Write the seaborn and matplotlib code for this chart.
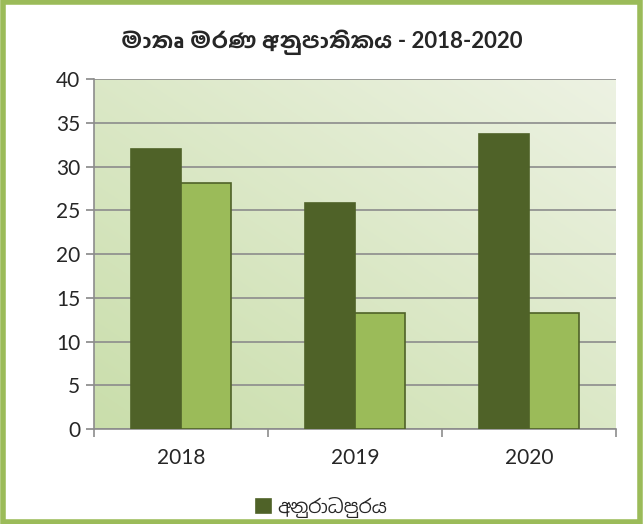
import numpy as np
import pandas as pd
import matplotlib.pyplot as plt
import seaborn as sns

# values
years = ["2018", "2019", "2020"]
anuradhapura = [32.0, 25.8, 33.7]
second_series = [28.1, 13.3, 13.3]
series_names = ["අනුරාධපුරය", "ශ්‍රී ලංකාව"]
title_text = "මාතෘ මරණ අනුපාතිකය - 2018-2020"
y_ticks = [0, 5, 10, 15, 20, 25, 30, 35, 40]

df = pd.DataFrame({
    "year": years * 2,
    "value": anuradhapura + second_series,
    "series": [series_names[0]] * 3 + [series_names[1]] * 3,
})

sns.set_theme(style="white")
plt.rcParams["font.family"] = ["Lato", "Noto Sans Sinhala", "DejaVu Sans"]

fig = plt.figure(figsize=(6.43, 5.24), dpi=100)
ax = fig.add_axes([94 / 643, 1 - 429 / 524, (616 - 94) / 643, (429 - 79) / 524])

# gradient background: darker bottom-left, lighter top-right
grad = np.linspace(0, 1, 256)
gx, gy = np.meshgrid(grad, grad)
g = (gx + gy) / 2
c0 = np.array([0.79, 0.87, 0.67])
c1 = np.array([0.93, 0.95, 0.89])
img = c0 + (c1 - c0) * g[..., None]
ax.imshow(img, extent=[0, 1, 0, 1], transform=ax.transAxes, aspect="auto",
          origin="lower", zorder=0)

palette = {series_names[0]: "#4F6228", series_names[1]: "#9BBB59"}
sns.barplot(data=df, x="year", y="value", hue="series", palette=palette,
            width=0.57, gap=0, saturation=1, ax=ax, zorder=3,
            edgecolor="#4F6228", linewidth=1.2)

ax.set_ylim(0, 40)
ax.set_xlim(-0.5, 2.5)
ax.set_yticks(y_ticks)
ax.yaxis.grid(True, color="#8c8c8c", linewidth=1.2, zorder=1)
ax.set_axisbelow(True)
for s in ["top", "right"]:
    ax.spines[s].set_visible(False)
ax.spines["left"].set_color("#8c8c8c")
ax.spines["bottom"].set_color("#8c8c8c")
ax.spines["left"].set_linewidth(1.2)
ax.spines["bottom"].set_linewidth(1.2)

ax.tick_params(axis="y", left=True, length=6, color="#8c8c8c", labelsize=15, pad=4)
ax.tick_params(axis="x", bottom=False, labelsize=15, pad=8)
ax.set_xticks([-0.5, 0.5, 1.5, 2.5], minor=True)
ax.tick_params(axis="x", which="minor", bottom=True, length=6, color="#8c8c8c", width=1.2)
ax.set_xlabel("")
ax.set_ylabel("")

# legend shows only the first series, centred on the figure as in the reference
handles, labels = ax.get_legend_handles_labels()
ax.get_legend().remove()
fig.legend(handles[:1], labels[:1], loc="center", bbox_to_anchor=(0.5, 1 - 507 / 524),
           frameon=False, fontsize=13.5, handlelength=0.8, handleheight=0.8,
           handletextpad=0.3)

fig.text(0.5, 1 - 42 / 524, title_text, ha="center", va="center",
         fontsize=16, fontweight="bold", family=["Lato", "Hind Colombo", "DejaVu Sans"])

# green border around the whole chart
fig.patches.append(plt.Rectangle((0.004, 0.004), 0.992, 0.992, transform=fig.transFigure,
                                 fill=False, edgecolor="#9BBB59", linewidth=4))

fig.savefig("out.png", dpi=100, facecolor="white")
